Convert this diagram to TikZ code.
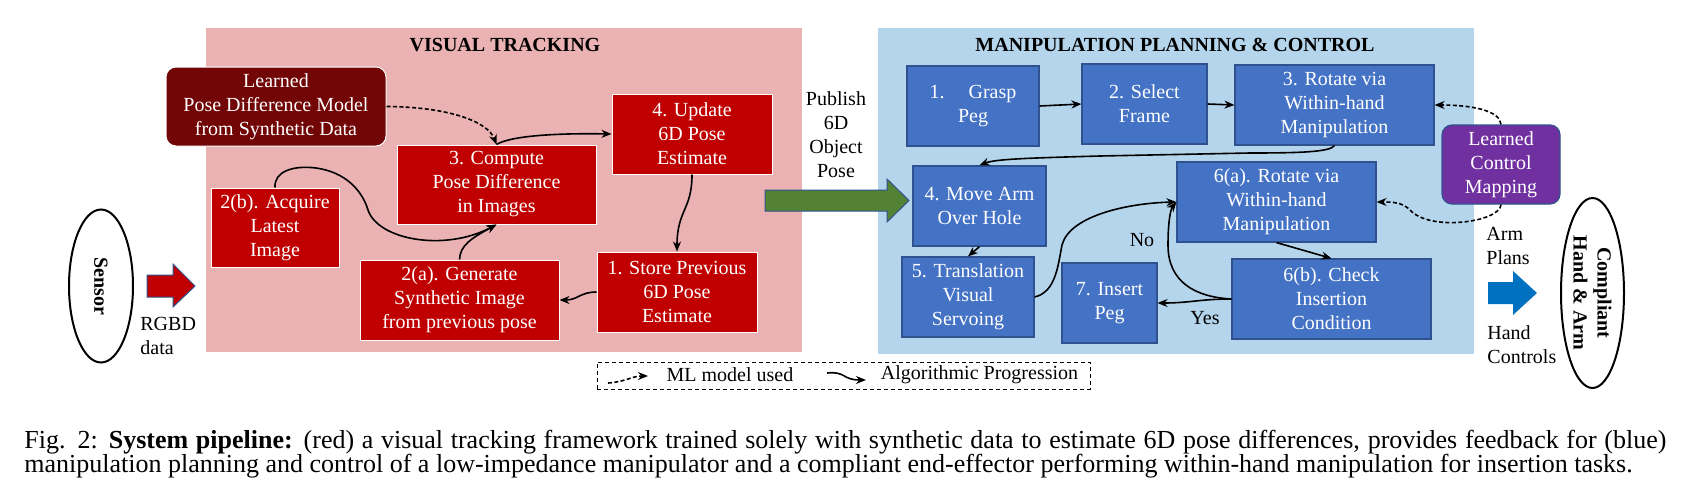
\documentclass[tikz,border=0pt]{standalone}
\usepackage{fontspec}
\setmainfont{Liberation Serif}
\usetikzlibrary{arrows.meta,shapes.geometric}
\definecolor{pinkbg}{RGB}{234,178,178}
\definecolor{redbox}{RGB}{192,0,0}
\definecolor{darkred}{RGB}{114,6,6}
\definecolor{bluebg}{RGB}{180,213,236}
\definecolor{bluebox}{RGB}{68,114,196}
\definecolor{blueedge}{RGB}{47,82,143}
\definecolor{purplebox}{RGB}{112,48,160}
\definecolor{greenarrow}{RGB}{84,130,53}
\definecolor{bluearrow}{RGB}{0,112,192}
\begin{document}
\begin{tikzpicture}[x=0.5pt,y=-0.5pt,
  every node/.style={font=\fontsize{10}{12}\selectfont, align=center, inner sep=0pt},
  sz/.style 2 args={minimum width=#1*0.5pt, minimum height=#2*0.5pt},
  rbox/.style={draw=white, line width=0.5pt, fill=redbox, text=white},
  bbox/.style={draw=blueedge, line width=0.6pt, fill=bluebox, text=white},
  flow/.style={draw=black, line width=0.8pt, -{Stealth[length=5pt,width=4pt]}},
  ml/.style={flow, dash pattern=on 2pt off 1.2pt},
  region/.style={draw=none, inner sep=0pt},
  title/.style={font=\bfseries\fontsize{10}{12}\selectfont},
  blockarrow/.style={line width=0.5pt},
  plain/.style={text=black},
  captxt/.style={text=black, anchor=base west, font=\fontsize{13}{13}\selectfont}
]
\useasboundingbox (0,0) rectangle (1687,503);
\fill[white] (0,0) rectangle (1687,503);

% regions
\node[region, fill=pinkbg, sz={596}{324}] (vt) at (504,190) {};
\node[region, fill=bluebg, sz={596}{326}] (mp) at (1176,191) {};
\node[title] (vttitle) at (505,45) {VISUAL TRACKING};
\node[title] (mptitle) at (1175,45) {MANIPULATION PLANNING \& CONTROL};

% red boxes
\node[draw=white, line width=0.5pt, fill=darkred, text=white, rounded corners=5pt, sz={220}{79}] (lpdm) at (276,106.5) {Learned\\Pose Difference Model\\from Synthetic Data};
\node[rbox, sz={199}{79}] (c3) at (496.5,184.5) {3. Compute\\Pose Difference\\in Images};
\node[rbox, sz={160}{80}] (u4) at (692,134) {4. Update\\6D Pose\\Estimate};
\node[rbox, sz={128}{79}] (b2) at (275,227.5) {2(b). Acquire\\Latest\\Image};
\node[rbox, sz={199}{80}] (a2) at (459.5,300) {2(a). Generate\\Synthetic Image\\from previous pose};
\node[rbox, sz={160}{80}] (s1) at (677,292) {1. Store Previous\\6D Pose\\Estimate};

% blue boxes
\node[bbox, sz={132}{80}] (g1) at (973,106) {1.\hspace{1.2em}Grasp\\Peg};
\node[bbox, sz={125}{80}] (f2) at (1144.5,104) {2. Select\\Frame};
\node[bbox, sz={199}{80}] (r3) at (1334.5,105) {3. Rotate via\\Within-hand\\Manipulation};
\node[bbox, sz={133}{80}] (m4) at (979.5,206) {4. Move Arm\\Over Hole};
\node[bbox, sz={132}{80}] (t5) at (968,297) {5. Translation\\Visual\\Servoing};
\node[bbox, sz={95}{80}] (i7) at (1109.5,303) {7. Insert\\Peg};
\node[bbox, sz={199}{80}] (r6a) at (1276.5,202) {6(a). Rotate via\\Within-hand\\Manipulation};
\node[bbox, sz={199}{80}] (c6b) at (1331.5,299) {6(b). Check\\Insertion\\Condition};
\node[draw=blueedge, line width=0.6pt, fill=purplebox, text=white, rounded corners=5pt, sz={118}{79}] (lcm) at (1501,164.5) {Learned\\Control\\Mapping};

% ellipses
\node[ellipse, draw, line width=1pt, sz={64}{153}] (sensor) at (101,286) {};
\node[title, rotate=-90] (sensortxt) at (sensor) {Sensor};
\node[ellipse, draw, line width=1pt, sz={63}{190}] (cha) at (1592.5,293) {};
\node[title, rotate=-90] (chatxt) at (cha) {Compliant\\Hand \& Arm};

% block arrows
\fill[redbox, draw=blueedge, blockarrow] (147,275) -- (173,275) -- (173,264) -- (195,286) -- (173,307) -- (173,297) -- (147,297) -- cycle;
\fill[greenarrow, draw=blueedge, blockarrow] (765,190) -- (887,190) -- (887,179) -- (909,200.5) -- (887,222) -- (887,211) -- (765,211) -- cycle;
\fill[bluearrow] (1488,282) -- (1513,282) -- (1513,271) -- (1537,293) -- (1513,315) -- (1513,304) -- (1488,304) -- cycle;

% free texts
\node[plain, anchor=west, align=left] (rgbd) at (140,336) {RGBD\\data};
\node[plain] (publish) at (836,134.5) {Publish\\6D\\Object\\Pose};
\node[plain, anchor=west, align=left] (armplans) at (1486,246) {Arm\\Plans};
\node[plain, anchor=west, align=left] (handctl) at (1487,345) {Hand\\Controls};
\node[plain] (nolbl) at (1142,240) {No};
\node[plain] (yeslbl) at (1205,318) {Yes};

% red connectors
\draw[ml] (lpdm.east) .. controls (450,107) and (488,122) .. (c3.north);
\draw[flow] (c3.north) .. controls (510,136) and (555,133) .. (u4.west);
\draw[flow] (b2.north) .. controls (274,172) and (292,165) .. (316,168)
  .. controls (345,172) and (362,190) .. (368,210)
  .. controls (378,240) and (445,252) .. (c3.south);
\draw[flow] (a2.north) .. controls (460,245) and (472,238) .. (c3.south);
\draw[flow] (s1.west) .. controls (580,292) and (578,300) .. (a2.east);
\draw[flow] (u4.south) .. controls (692,210) and (677,210) .. (s1.north);

% blue connectors
\draw[flow] (g1.east) -- (f2.west);
\draw[flow] (f2.east) -- (r3.west);
\draw[flow] (r3.south) .. controls (1330,152) and (1300,153) .. (1250,153)
  -- (1100,156) .. controls (1030,158) and (995,159) .. (m4.north);
\draw[flow] (m4.south) -- (t5.north);
\draw[flow] (t5.east) .. controls (1056,292) and (1058,265) .. (1062,245)
  .. controls (1070,215) and (1130,203) .. (r6a.west);
\draw[flow] (r6a.south) -- (c6b.north);
\draw[flow] (c6b.west) .. controls (1195,297) and (1168,282) .. (1168,245)
  .. controls (1168,225) and (1170,210) .. (r6a.west);
\draw[flow] (c6b.west) .. controls (1200,299) and (1190,303) .. (i7.east);
\draw[ml] (lcm.north) .. controls (1500,110) and (1470,105) .. (r3.east);
\draw[ml] (lcm.south) .. controls (1500,222) and (1430,232) .. (1410,210)
  .. controls (1402,202) and (1392,202) .. (r6a.east);

% legend
\node[draw, dash pattern=on 2pt off 1.5pt, line width=0.5pt, sz={493}{27}] (legend) at (843.5,375.5) {};
\coordinate (l1a) at (608,383);
\coordinate (l1b) at (648,376);
\draw[ml] (l1a) .. controls (625,382) and (632,376) .. (l1b);
\node[plain] (l1t) at (730,375) {ML model used};
\coordinate (l2a) at (827,373);
\coordinate (l2b) at (866,380);
\draw[flow] (l2a) .. controls (846,371) and (842,380) .. (l2b);
\node[plain] (l2t) at (979.5,375) {Algorithmic Progression};

% caption
\node[captxt] (cap1) at (24,448) {\hbox to 821pt{Fig. 2: \textbf{System pipeline:} (red) a visual tracking framework trained solely with synthetic data to estimate 6D pose differences, provides feedback for (blue)}};
\node[captxt] (cap2) at (24,472) {manipulation planning and control of a low-impedance manipulator and a compliant end-effector performing within-hand manipulation for insertion tasks.};
\end{tikzpicture}
\end{document}
